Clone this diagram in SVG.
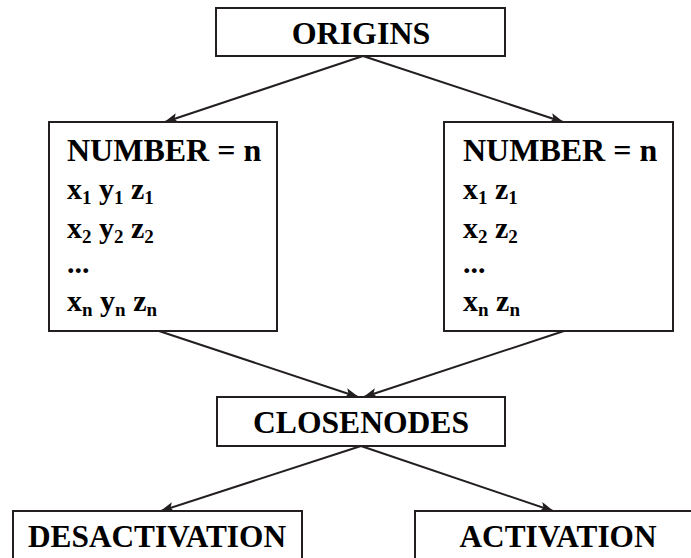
<svg xmlns="http://www.w3.org/2000/svg" width="691" height="558" viewBox="0 0 691 558">
  <style>
    .box { fill: #ffffff; stroke: #231f20; stroke-width: 2; }
    .edge { fill: none; stroke: #231f20; stroke-width: 2; marker-end: url(#arrow); }
    .title { font-size: 32px; text-anchor: middle; }
    .head { font-size: 32px; }
    .row { font-size: 30px; }
    .sub { font-size: 19px; }
  </style>
  <defs>
    <marker id="arrow" viewBox="0 0 14 10" refX="13" refY="5" markerWidth="14" markerHeight="10" markerUnits="userSpaceOnUse" orient="auto">
      <path d="M0,0 L14,5 L0,10 L3,5 z" fill="#231f20"/>
    </marker>
  </defs>

  <!-- connectors -->
  <g id="connectors">
    <line class="edge" x1="363" y1="56" x2="165" y2="122"/>
    <line class="edge" x1="363" y1="56" x2="563" y2="122"/>
    <line class="edge" x1="159" y1="331" x2="358" y2="397"/>
    <line class="edge" x1="564" y1="331" x2="364" y2="397"/>
    <line class="edge" x1="361" y1="446" x2="161" y2="511"/>
    <line class="edge" x1="361" y1="446" x2="553" y2="511"/>
  </g>

  <!-- nodes: all labels in bold Times-metric serif -->
  <g font-family="Liberation Serif" font-weight="bold" fill="#000000">
    <g id="origins">
      <rect class="box" x="216" y="8" width="289" height="48"/>
      <text class="title" x="361" y="44">ORIGINS</text>
    </g>

    <g id="list-xyz">
      <rect class="box" x="49" y="122" width="228" height="209"/>
      <text class="head" x="67" y="161">NUMBER = n</text>
      <text class="row" x="67" y="199">x<tspan class="sub" dy="5">1</tspan><tspan dy="-5"> y</tspan><tspan class="sub" dy="5">1</tspan><tspan dy="-5"> z</tspan><tspan class="sub" dy="5">1</tspan></text>
      <text class="row" x="67" y="238">x<tspan class="sub" dy="5">2</tspan><tspan dy="-5"> y</tspan><tspan class="sub" dy="5">2</tspan><tspan dy="-5"> z</tspan><tspan class="sub" dy="5">2</tspan></text>
      <text class="row" x="67" y="273">...</text>
      <text class="row" x="67" y="311">x<tspan class="sub" dy="5">n</tspan><tspan dy="-5"> y</tspan><tspan class="sub" dy="5">n</tspan><tspan dy="-5"> z</tspan><tspan class="sub" dy="5">n</tspan></text>
    </g>

    <g id="list-xz">
      <rect class="box" x="444" y="122" width="229" height="209"/>
      <text class="head" x="463" y="161">NUMBER = n</text>
      <text class="row" x="463" y="199">x<tspan class="sub" dy="5">1</tspan><tspan dy="-5"> z</tspan><tspan class="sub" dy="5">1</tspan></text>
      <text class="row" x="463" y="238">x<tspan class="sub" dy="5">2</tspan><tspan dy="-5"> z</tspan><tspan class="sub" dy="5">2</tspan></text>
      <text class="row" x="463" y="273">...</text>
      <text class="row" x="463" y="311">x<tspan class="sub" dy="5">n</tspan><tspan dy="-5"> z</tspan><tspan class="sub" dy="5">n</tspan></text>
    </g>

    <g id="closenodes">
      <rect class="box" x="217" y="397" width="288" height="49"/>
      <text class="title" x="361" y="433" textLength="216" lengthAdjust="spacingAndGlyphs">CLOSENODES</text>
    </g>

    <g id="desactivation">
      <rect class="box" x="13" y="511" width="289" height="60"/>
      <text class="title" x="157" y="547" textLength="258" lengthAdjust="spacingAndGlyphs">DESACTIVATION</text>
    </g>

    <g id="activation">
      <rect class="box" x="415" y="511" width="289" height="60"/>
      <text class="title" x="558" y="547" textLength="197" lengthAdjust="spacingAndGlyphs">ACTIVATION</text>
    </g>
  </g>
</svg>
